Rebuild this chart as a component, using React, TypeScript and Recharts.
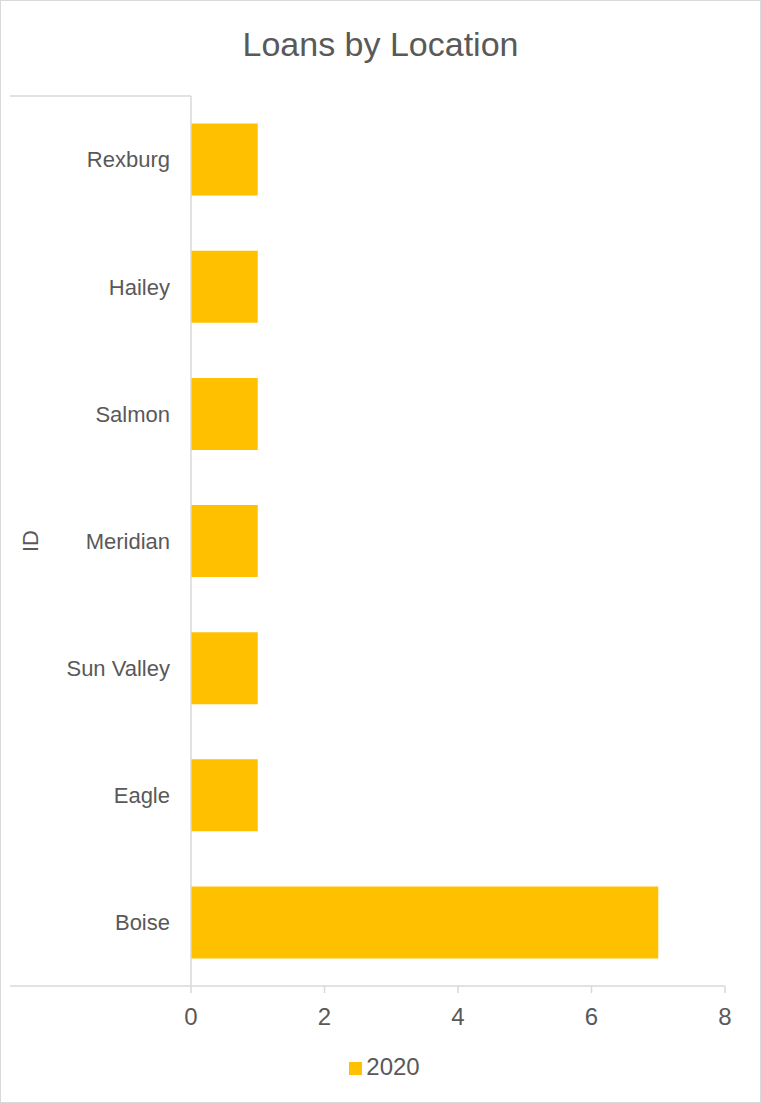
import React from 'react';
import { BarChart, Bar, XAxis, YAxis, Legend, Customized } from 'recharts';

const categories = ['Rexburg', 'Hailey', 'Salmon', 'Meridian', 'Sun Valley', 'Eagle', 'Boise'];
const values2020 = [1, 1, 1, 1, 1, 1, 7];
const xTicks = [0, 2, 4, 6, 8];
const seriesName = '2020';
const title = 'Loans by Location';
const groupLabel = 'ID';

const data = categories.map((c, i) => ({ location: c, v: values2020[i] }));

const W = 761;
const H = 1103;
const M = { top: 96, right: 36, bottom: 77, left: 10 };
const Y_W = 181;
const X_H = 40;
const plotLeft = M.left + Y_W;
const plotRight = W - M.right;
const plotTop = M.top;
const plotBottom = H - M.bottom - X_H;

const FONT = '"Liberation Sans", Arial, sans-serif';
const TEXT = '#595959';
const LINE = '#d9d9d9';
const BAR = '#FFC000';

const Decor = () => (
  <g>
    <rect x={0.5} y={0.5} width={W - 1} height={H - 1} fill="none" stroke={LINE} strokeWidth={1} />
    <text x={W / 2} y={56} textAnchor="middle" fontFamily={FONT} fontSize={34} fill={TEXT}>
      {title}
    </text>
    <line x1={M.left} y1={plotTop} x2={plotLeft} y2={plotTop} stroke={LINE} strokeWidth={1.5} />
    <line x1={M.left} y1={plotBottom} x2={plotRight} y2={plotBottom} stroke={LINE} strokeWidth={1.5} />
    <text
      x={30}
      y={(plotTop + plotBottom) / 2}
      transform={`rotate(-90 30 ${(plotTop + plotBottom) / 2})`}
      textAnchor="middle"
      dominantBaseline="central"
      fontFamily={FONT}
      fontSize={22}
      fill={TEXT}
    >
      {groupLabel}
    </text>
  </g>
);

export default function App() {
  return (
    <div style={{ position: 'absolute', left: 0, top: 0, width: W, height: H, background: '#fff' }}>
      <BarChart width={W} height={H} data={data} layout="vertical" margin={M} barCategoryGap="21.7%">
        <Customized component={<Decor />} />
        <XAxis
          type="number"
          domain={[0, 8]}
          ticks={xTicks}
          height={X_H}
          axisLine={false}
          tickSize={7}
          tickMargin={15}
          tickLine={{ stroke: LINE, strokeWidth: 1.5 }}
          tick={{ fill: TEXT, fontSize: 24, fontFamily: FONT }}
          interval={0}
        />
        <YAxis
          type="category"
          dataKey="location"
          width={Y_W}
          axisLine={{ stroke: LINE, strokeWidth: 1.5 }}
          tickLine={false}
          tickSize={0}
          tickMargin={21}
          tick={{ fill: TEXT, fontSize: 22, fontFamily: FONT }}
          interval={0}
        />
        <Bar dataKey="v" name={seriesName} fill={BAR} isAnimationActive={false} />
        <Legend
          layout="horizontal"
          verticalAlign="middle"
          align="center"
          iconType="square"
          iconSize={13}
          wrapperStyle={{ top: 1053, left: 9, width: W, fontSize: 24, fontFamily: FONT, lineHeight: '28px' }}
          formatter={(value: string) => <span style={{ color: TEXT }}>{value}</span>}
        />
      </BarChart>
    </div>
  );
}
